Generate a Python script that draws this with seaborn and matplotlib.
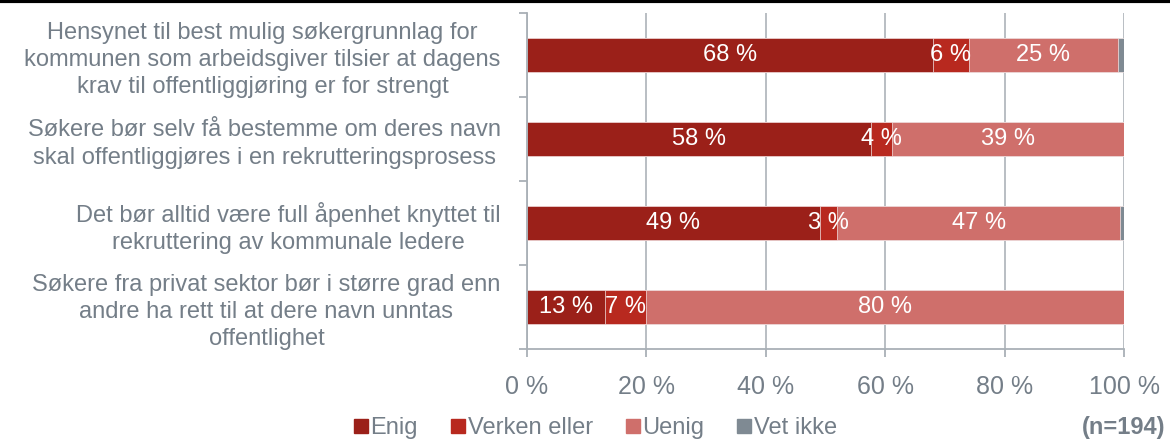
import matplotlib
matplotlib.use("Agg")
import matplotlib.pyplot as plt
import seaborn as sns
import numpy as np
from matplotlib.lines import Line2D

# data
statements = [
    "Hensynet til best mulig søkergrunnlag for\nkommunen som arbeidsgiver tilsier at dagens\nkrav til offentliggjøring er for strengt",
    "Søkere bør selv få bestemme om deres navn\nskal offentliggjøres i en rekrutteringsprosess",
    "Det bør alltid være full åpenhet knyttet til\nrekruttering av kommunale ledere",
    "Søkere fra privat sektor bør i større grad enn\nandre ha rett til at dere navn unntas\noffentlighet",
]
categories = ["Enig", "Verken eller", "Uenig", "Vet ikke"]
enig = [68, 57.6, 49, 13]
verken = [6, 3.6, 3, 7]
uenig = [25, 38.8, 47.4, 80]
vet_ikke = [1, 0, 0.6, 0]
x_ticks = [0, 20, 40, 60, 80, 100]
n_note = "(n=194)"

colors = ["#9B2019", "#B8291F", "#CF6F6B", "#7F8A93"]
text_grey = "#747E88"
axis_grey = "#A9B0B6"

sns.set_style("white")
plt.rcParams["font.family"] = ["Liberation Sans", "DejaVu Sans"]

fig = plt.figure(figsize=(11.7, 4.42), dpi=100)
ax = fig.add_axes([0.4504, 0.2104, 0.5103, 0.7602])

values = np.array([enig, verken, uenig, vet_ikke], dtype=float)
cum = np.cumsum(values, axis=0)

# stacked bars: draw cumulative totals from the outermost inwards
for i in reversed(range(len(categories))):
    sns.barplot(x=cum[i], y=statements, orient="h", color=colors[i],
                saturation=1, width=0.405, edgecolor="#F4E6E6", linewidth=0.5,
                ax=ax)

# segment labels
for i in range(len(categories)):
    for r in range(len(statements)):
        v = values[i, r]
        if v >= 2:
            ax.text(cum[i, r] - v / 2, r, f"{v:.0f} %", ha="center",
                    va="center", color="white", fontsize=17)

ax.set_xlim(0, 100)
ax.set_ylim(len(statements) - 0.5, -0.5)
ax.set_xticks(x_ticks)
ax.set_xticklabels([f"{t} %" for t in x_ticks])
ax.set_xlabel("")
ax.set_ylabel("")

# boundary ticks on the left spine, labels at bar centres
ax.set_yticks(np.arange(-0.5, len(statements), 1))
ax.set_yticklabels([])
ax.set_yticks(np.arange(len(statements)), minor=True)
ax.set_yticklabels(statements, minor=True)
for lab in ax.get_yticklabels(minor=True):
    lab.set_multialignment("center")
    lab.set_linespacing(1.3)

ax.tick_params(axis="y", which="major", length=6, width=1.3, color=axis_grey,
               direction="out", left=True)
ax.tick_params(axis="y", which="minor", length=0, pad=19, labelsize=17,
               labelcolor=text_grey)
ax.tick_params(axis="x", length=6, width=1.3, color=axis_grey, direction="out",
               bottom=True, pad=13, labelsize=18, labelcolor=text_grey)

ax.xaxis.grid(True, color="#B3B9BE", linewidth=1.3)
ax.set_axisbelow(True)
sns.despine(ax=ax, top=True, right=True)
for s in ["left", "bottom"]:
    ax.spines[s].set_color(axis_grey)
    ax.spines[s].set_linewidth(1.3)

handles = [Line2D([], [], marker="s", linestyle="none", markersize=10,
                  color=c) for c in colors]
fig.legend(handles, categories, loc="center", bbox_to_anchor=(0.509, 0.032),
           ncol=4, frameon=False, fontsize=17, labelcolor=text_grey,
           handlelength=0.6, handletextpad=0.1, columnspacing=1.4)
fig.text(0.996, 0.032, n_note, ha="right", va="center", fontsize=17,
         fontweight="bold", color=text_grey)

fig.add_artist(Line2D([0, 1], [0.997, 0.997], transform=fig.transFigure,
                      color="black", linewidth=3))

fig.savefig("out.png", dpi=100)
